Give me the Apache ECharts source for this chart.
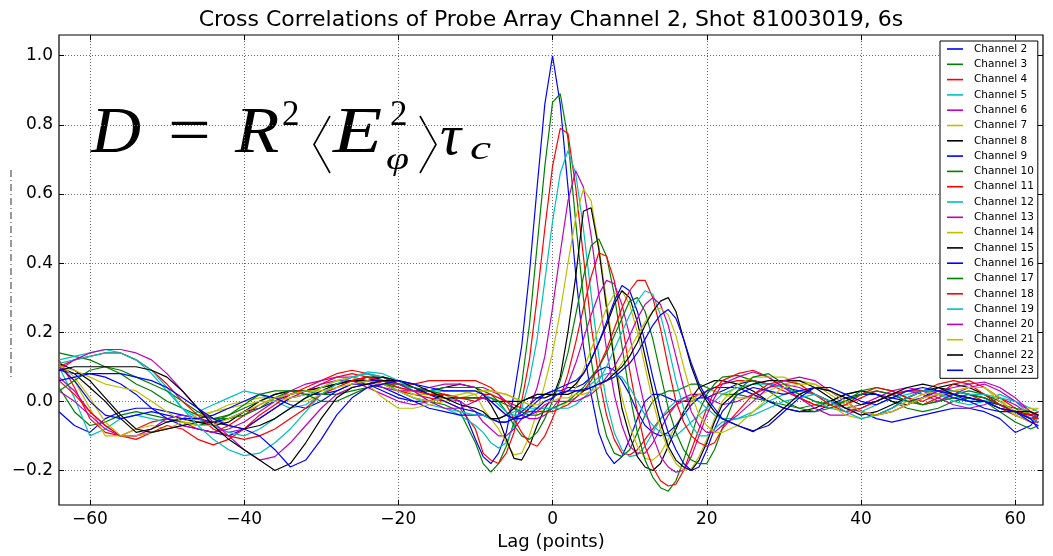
<!DOCTYPE html>
<html>
<head>
<meta charset="utf-8">
<script src="https://cdn.jsdelivr.net/npm/echarts@6/dist/echarts.min.js"></script>
<style>
html,body{margin:0;padding:0;background:#fff;}
#chart{width:1053px;height:556px;}
</style>
</head>
<body>
<div id="chart"></div>
<script>
// ---------------- data ----------------
const lags = [-64,-62,-60,-58,-56,-54,-52,-50,-48,-46,-44,-42,-40,-38,-36,-34,-32,-30,-28,-26,-24,-22,-20,-18,-16,-14,-12,-10,
  -9,-8,-7,-6,-5,-4,-3,-2,-1,0,1,2,3,4,5,6,7,8,9,10,11,12,13,14,15,16,17,18,19,20,21,22,
  24,26,28,30,32,34,36,38,40,42,44,46,48,50,52,54,56,58,60,62,63];

const ch2 = [-0.03,-0.07,-0.09,-0.05,-0.03,-0.02,-0.02,-0.03,-0.04,-0.05,-0.06,-0.05,-0.03,-0.02,0.00,0.02,0.03,0.04,0.05,0.06,0.05,0.03,0.01,0.00,0.00,0.02,0.00,-0.11,
  -0.16,-0.18,-0.15,-0.09,0.02,0.16,0.37,0.62,0.86,1.00,0.86,0.62,0.37,0.16,0.02,-0.09,-0.15,-0.18,-0.16,-0.11,-0.05,0.00,0.02,0.02,0.01,0.00,0.00,0.00,0.01,0.01,0.02,0.03,
  0.05,0.06,0.05,0.04,0.03,0.02,0.00,-0.02,-0.03,-0.05,-0.06,-0.05,-0.04,-0.03,-0.02,-0.02,-0.03,-0.05,-0.09,-0.07,-0.04];
const ch3 = [0.04,-0.03,-0.07,-0.06,-0.04,-0.03,-0.04,-0.05,-0.06,-0.07,-0.06,-0.04,-0.02,0.00,0.02,0.03,0.03,0.04,0.05,0.06,0.06,0.05,0.03,0.01,0.00,-0.01,-0.03,-0.12,
  -0.18,-0.205,-0.18,-0.13,-0.06,0.05,0.22,0.45,0.68,0.865,0.89,0.76,0.52,0.30,0.12,-0.01,-0.10,-0.15,-0.16,-0.14,-0.09,-0.04,0.00,0.02,0.03,0.03,0.04,0.05,0.05,0.04,0.03,0.02,
  0.02,0.01,0.00,-0.01,-0.02,-0.01,0.00,0.02,0.03,0.02,0.00,-0.02,-0.03,-0.02,0.00,0.01,0.00,-0.03,-0.06,-0.08,-0.07];
const ch4 = [0.12,0.04,-0.05,-0.09,-0.10,-0.08,-0.06,-0.05,-0.06,-0.08,-0.09,-0.07,-0.04,-0.01,0.01,0.02,0.03,0.05,0.07,0.08,0.07,0.05,0.03,0.02,0.01,0.00,-0.02,-0.08,
  -0.15,-0.17,-0.18,-0.15,-0.09,0.00,0.12,0.30,0.50,0.68,0.79,0.775,0.62,0.42,0.22,0.07,-0.04,-0.11,-0.15,-0.155,-0.14,-0.11,-0.08,-0.05,-0.03,-0.01,0.00,0.01,0.02,0.03,0.04,0.05,
  0.06,0.06,0.05,0.03,0.01,-0.01,-0.02,-0.01,0.01,0.03,0.02,0.00,-0.01,0.01,0.03,0.02,0.00,-0.02,-0.04,-0.06,-0.06];
const ch5 = [0.10,0.01,-0.10,-0.08,-0.05,-0.04,-0.05,-0.06,-0.05,-0.03,-0.01,0.01,0.03,0.02,0.00,-0.02,-0.01,0.02,0.05,0.07,0.08,0.06,0.03,0.01,-0.01,-0.02,-0.04,-0.07,
  -0.09,-0.12,-0.135,-0.12,-0.07,-0.02,0.06,0.18,0.35,0.52,0.66,0.725,0.66,0.50,0.31,0.13,0.00,-0.09,-0.14,-0.16,-0.155,-0.13,-0.09,-0.05,-0.02,0.00,0.01,0.01,0.00,-0.02,-0.04,-0.05,
  -0.05,-0.03,0.00,0.02,0.03,0.02,0.00,-0.02,-0.03,-0.01,0.01,0.02,0.03,0.02,0.00,-0.01,0.00,0.02,0.00,-0.04,-0.05];
const ch6 = [0.07,0.03,-0.03,-0.07,-0.10,-0.10,-0.08,-0.05,-0.04,-0.05,-0.07,-0.09,-0.08,-0.05,-0.02,0.01,0.03,0.05,0.06,0.06,0.04,0.02,0.00,-0.01,0.00,0.01,0.00,-0.03,
  -0.06,-0.08,-0.10,-0.10,-0.08,-0.05,-0.02,0.04,0.13,0.27,0.43,0.58,0.667,0.62,0.48,0.31,0.15,0.02,-0.07,-0.13,-0.15,-0.15,-0.12,-0.08,-0.04,-0.01,0.01,0.02,0.02,0.01,0.00,-0.01,
  0.00,0.02,0.04,0.05,0.04,0.02,0.00,-0.02,-0.01,0.01,0.03,0.04,0.03,0.01,-0.01,-0.02,-0.01,0.01,-0.01,-0.04,-0.05];
const ch7 = [0.11,0.06,-0.02,-0.10,-0.10,-0.08,-0.07,-0.08,-0.07,-0.05,-0.03,-0.01,0.00,0.01,0.01,0.00,0.00,0.02,0.04,0.06,0.07,0.06,0.04,0.02,0.02,0.03,0.03,0.02,
  -0.02,-0.05,-0.08,-0.12,-0.155,-0.15,-0.10,-0.03,0.05,0.14,0.26,0.40,0.53,0.615,0.58,0.45,0.29,0.13,0.01,-0.07,-0.13,-0.165,-0.17,-0.15,-0.11,-0.07,-0.03,0.00,0.02,0.03,0.03,0.02,
  0.01,0.01,0.03,0.05,0.06,0.05,0.02,-0.01,-0.03,-0.04,-0.03,-0.01,0.01,0.02,0.02,0.01,0.00,-0.01,-0.04,-0.06,-0.05];
const ch8 = [0.10,0.08,0.04,0.00,-0.05,-0.09,-0.08,-0.06,-0.05,-0.06,-0.07,-0.06,-0.03,0.00,0.02,0.03,0.03,0.04,0.05,0.06,0.07,0.07,0.05,0.03,0.03,0.04,0.05,0.04,
  0.02,-0.01,-0.05,-0.11,-0.165,-0.17,-0.13,-0.07,-0.02,0.01,0.07,0.20,0.36,0.55,0.56,0.44,0.27,0.12,-0.02,-0.10,-0.16,-0.19,-0.20,-0.18,-0.13,-0.08,-0.03,0.01,0.04,0.05,0.06,0.06,
  0.05,0.03,0.00,-0.02,-0.03,-0.02,0.00,0.02,0.03,0.02,0.00,-0.01,0.01,0.04,0.05,0.04,0.02,-0.01,-0.03,-0.05,-0.06];
const ch9 = [0.09,0.08,0.08,0.07,0.05,0.02,-0.02,-0.05,-0.07,-0.08,-0.09,-0.10,-0.08,-0.05,-0.02,0.01,0.02,0.02,0.03,0.05,0.05,0.04,0.02,0.00,-0.02,-0.03,-0.04,-0.04,
  -0.04,-0.05,-0.06,-0.06,-0.05,-0.03,-0.01,0.01,0.02,0.03,0.03,0.04,0.04,0.05,0.07,0.09,0.10,0.09,0.06,0.02,-0.03,-0.07,-0.09,-0.10,-0.09,-0.07,-0.04,-0.01,0.01,0.03,0.04,0.04,
  0.04,0.02,0.00,-0.02,-0.03,-0.03,-0.01,0.01,0.02,0.02,0.01,0.00,0.01,0.03,0.02,0.00,-0.02,-0.03,-0.03,-0.05,-0.06];
const ch10 = [0.14,0.13,0.12,0.10,0.08,0.05,0.03,0.00,-0.02,-0.04,-0.05,-0.05,-0.04,-0.02,0.01,0.03,0.03,0.02,0.02,0.03,0.04,0.05,0.04,0.03,0.03,0.04,0.04,0.04,
  0.03,0.02,0.00,-0.03,-0.07,-0.10,-0.11,-0.09,-0.05,0.00,0.06,0.14,0.25,0.36,0.45,0.47,0.42,0.31,0.16,0.02,-0.09,-0.17,-0.22,-0.25,-0.26,-0.23,-0.17,-0.10,-0.03,0.02,0.05,0.07,
  0.075,0.06,0.03,0.00,-0.02,-0.03,-0.02,0.00,0.03,0.04,0.03,0.01,-0.01,0.00,0.02,0.03,0.02,0.00,-0.03,-0.05,-0.04];
const ch11 = [0.06,0.02,-0.03,-0.07,-0.10,-0.11,-0.09,-0.07,-0.08,-0.11,-0.126,-0.11,-0.08,-0.04,-0.01,0.02,0.04,0.06,0.08,0.09,0.08,0.07,0.05,0.05,0.06,0.06,0.06,0.06,
  0.05,0.04,0.02,-0.01,-0.05,-0.09,-0.12,-0.13,-0.10,-0.05,0.01,0.08,0.17,0.27,0.36,0.43,0.42,0.35,0.23,0.09,-0.03,-0.13,-0.19,-0.23,-0.245,-0.24,-0.20,-0.14,-0.08,-0.02,0.03,0.06,
  0.08,0.09,0.07,0.04,0.01,-0.01,-0.02,-0.01,0.02,0.04,0.03,0.01,0.00,0.02,0.05,0.06,0.04,0.01,-0.02,-0.05,-0.05];
const ch12 = [0.12,0.13,0.14,0.15,0.14,0.12,0.08,0.03,-0.02,-0.05,-0.07,-0.09,-0.10,-0.08,-0.05,-0.02,0.01,0.04,0.06,0.07,0.08,0.07,0.06,0.04,0.03,0.03,0.03,0.03,
  0.02,0.01,-0.01,-0.03,-0.04,-0.04,-0.03,-0.02,-0.02,-0.02,-0.01,0.00,0.01,0.03,0.05,0.07,0.08,0.08,0.07,0.04,0.00,-0.04,-0.07,-0.09,-0.10,-0.10,-0.08,-0.06,-0.04,-0.02,0.00,0.02,
  0.04,0.05,0.05,0.04,0.02,0.00,-0.02,-0.03,-0.02,0.00,0.02,0.03,0.03,0.02,0.01,0.00,0.00,-0.01,-0.03,-0.05,-0.06];
const ch13 = [0.03,0.00,-0.04,-0.08,-0.10,-0.10,-0.09,-0.08,-0.07,-0.08,-0.09,-0.08,-0.06,-0.03,0.00,0.03,0.05,0.06,0.07,0.07,0.06,0.04,0.03,0.03,0.04,0.05,0.05,0.04,
  0.04,0.03,0.02,0.00,-0.02,-0.04,-0.05,-0.05,-0.04,-0.02,0.01,0.05,0.11,0.18,0.25,0.31,0.35,0.34,0.28,0.19,0.08,-0.02,-0.10,-0.16,-0.19,-0.205,-0.20,-0.16,-0.10,-0.04,0.01,0.05,
  0.07,0.085,0.07,0.04,0.01,-0.02,-0.04,-0.04,-0.02,0.00,0.02,0.03,0.02,0.00,0.02,0.04,0.05,0.03,0.00,-0.03,-0.04];
const ch14 = [0.11,0.07,0.01,-0.06,-0.10,-0.10,-0.09,-0.08,-0.06,-0.04,-0.03,-0.02,-0.01,0.00,0.00,0.01,0.02,0.04,0.06,0.07,0.05,0.01,-0.02,-0.02,-0.01,0.00,0.01,0.02,
  0.03,0.03,0.025,0.02,0.01,0.00,-0.01,-0.02,-0.03,-0.03,-0.02,0.00,0.04,0.09,0.15,0.21,0.27,0.31,0.32,0.28,0.20,0.10,0.00,-0.08,-0.14,-0.18,-0.20,-0.195,-0.16,-0.11,-0.05,0.00,
  0.05,0.07,0.07,0.07,0.05,0.02,-0.01,-0.04,-0.05,-0.04,-0.02,0.00,0.02,0.03,0.03,0.04,0.04,0.01,-0.04,-0.03,-0.02];
const ch15 = [0.11,0.09,0.06,0.01,-0.04,-0.08,-0.09,-0.08,-0.07,-0.06,-0.06,-0.07,-0.08,-0.07,-0.05,-0.02,0.01,0.03,0.05,0.06,0.06,0.07,0.06,0.04,0.02,0.01,0.01,0.01,
  0.01,0.00,0.00,0.00,0.00,0.00,0.01,0.01,0.01,0.02,0.02,0.03,0.05,0.08,0.12,0.17,0.22,0.28,0.32,0.30,0.23,0.13,0.03,-0.06,-0.13,-0.17,-0.19,-0.20,-0.17,-0.12,-0.06,-0.01,
  0.03,0.05,0.06,0.06,0.06,0.04,0.01,-0.02,-0.04,-0.03,-0.01,0.01,0.03,0.04,0.03,0.02,0.01,-0.01,-0.03,-0.04,-0.03];
const ch16 = [0.10,0.06,0.00,-0.04,-0.05,-0.04,-0.03,-0.04,-0.05,-0.05,-0.04,-0.02,0.00,0.02,0.01,-0.01,-0.02,0.00,0.03,0.05,0.06,0.06,0.05,0.04,0.02,0.00,-0.02,-0.03,
  -0.04,-0.05,-0.06,-0.06,-0.05,-0.04,-0.02,0.00,0.02,0.03,0.04,0.05,0.06,0.08,0.12,0.17,0.23,0.29,0.335,0.32,0.26,0.17,0.07,-0.02,-0.09,-0.14,-0.18,-0.20,-0.19,-0.14,-0.08,-0.03,
  0.02,0.04,0.03,0.02,0.03,0.04,0.03,0.00,-0.03,-0.04,-0.02,0.01,0.03,0.03,0.01,0.00,0.00,-0.01,-0.03,-0.06,-0.07];
const ch17 = [0.03,0.06,0.09,0.10,0.09,0.07,0.05,0.03,0.00,-0.03,-0.05,-0.04,-0.01,0.02,0.03,0.03,0.02,0.00,0.00,0.02,0.04,0.05,0.05,0.04,0.03,0.02,0.01,0.01,
  0.01,0.01,0.00,-0.01,-0.02,-0.03,-0.04,-0.04,-0.03,-0.02,-0.01,0.00,0.02,0.04,0.07,0.10,0.14,0.19,0.24,0.29,0.30,0.26,0.18,0.08,-0.02,-0.09,-0.14,-0.17,-0.18,-0.18,-0.14,-0.08,
  0.03,0.07,0.08,0.05,0.02,0.00,-0.01,0.00,0.02,0.03,0.02,0.00,-0.01,0.00,0.01,0.02,0.01,-0.01,-0.02,-0.03,-0.05];
const ch18 = [0.10,0.12,0.13,0.14,0.14,0.12,0.09,0.05,0.00,-0.04,-0.08,-0.10,-0.11,-0.10,-0.08,-0.05,-0.02,0.02,0.04,0.06,0.07,0.06,0.04,0.03,0.02,0.02,0.01,0.00,
  0.02,0.02,0.01,0.00,-0.01,-0.02,-0.03,-0.03,-0.03,-0.03,-0.02,-0.01,0.01,0.03,0.06,0.10,0.15,0.21,0.27,0.32,0.35,0.35,0.30,0.21,0.10,0.00,-0.06,-0.10,-0.12,-0.13,-0.12,-0.08,
  -0.03,0.02,0.05,0.06,0.05,0.02,-0.01,-0.03,-0.02,0.00,0.02,0.03,0.03,0.05,0.06,0.05,0.02,-0.01,-0.03,-0.04,-0.03];
const ch19 = [0.11,0.12,0.13,0.14,0.14,0.12,0.09,0.04,-0.02,-0.07,-0.11,-0.14,-0.157,-0.15,-0.12,-0.08,-0.03,0.02,0.05,0.07,0.085,0.08,0.06,0.03,0.00,-0.02,-0.03,-0.04,
  -0.04,-0.05,-0.05,-0.04,-0.03,-0.02,-0.02,-0.02,-0.02,-0.02,-0.02,-0.02,-0.01,0.01,0.03,0.06,0.10,0.15,0.20,0.25,0.29,0.32,0.31,0.25,0.16,0.06,-0.02,-0.07,-0.10,-0.10,-0.08,-0.06,
  -0.05,-0.04,-0.02,0.00,0.01,0.02,0.00,-0.03,-0.05,-0.04,-0.02,0.01,0.03,0.03,0.03,0.02,0.02,0.01,0.00,-0.02,-0.03];
const ch20 = [0.09,0.12,0.14,0.15,0.15,0.14,0.12,0.08,0.03,-0.02,-0.06,-0.10,-0.14,-0.17,-0.16,-0.12,-0.07,-0.02,0.02,0.04,0.05,0.06,0.05,0.03,0.00,-0.02,-0.02,0.00,
  0.01,0.00,-0.02,-0.04,-0.05,-0.05,-0.04,-0.03,-0.01,0.00,0.00,0.00,0.00,0.01,0.02,0.04,0.07,0.10,0.14,0.19,0.24,0.28,0.30,0.28,0.22,0.13,0.04,-0.03,-0.07,-0.09,-0.09,-0.07,
  -0.04,0.00,0.04,0.06,0.07,0.06,0.03,0.00,-0.03,-0.04,-0.03,-0.01,0.01,0.03,0.04,0.05,0.056,0.04,0.01,-0.03,-0.05];
const ch21 = [0.10,0.09,0.07,0.05,0.04,0.03,0.00,-0.03,-0.06,-0.07,-0.07,-0.05,-0.03,-0.01,0.01,0.02,0.03,0.03,0.04,0.05,0.06,0.05,0.03,0.01,0.00,0.01,0.02,0.03,
  0.03,0.03,0.025,0.02,0.01,0.00,-0.01,-0.01,0.00,0.00,0.01,0.01,0.02,0.02,0.03,0.04,0.06,0.08,0.11,0.15,0.19,0.23,0.26,0.27,0.25,0.19,0.10,0.02,-0.04,-0.07,-0.09,-0.09,
  -0.07,-0.03,0.01,0.04,0.05,0.05,0.03,0.00,-0.03,-0.04,-0.03,-0.01,0.01,0.02,0.03,0.04,0.04,0.00,-0.03,-0.02,-0.02];
const ch22 = [0.09,0.10,0.10,0.10,0.10,0.10,0.09,0.07,0.03,-0.02,-0.07,-0.11,-0.14,-0.17,-0.20,-0.18,-0.12,-0.05,0.01,0.04,0.05,0.06,0.06,0.05,0.03,0.01,-0.01,-0.02,
  -0.03,-0.05,-0.05,-0.04,-0.02,0.00,0.01,0.02,0.02,0.02,0.02,0.02,0.03,0.03,0.04,0.05,0.06,0.08,0.10,0.13,0.17,0.22,0.26,0.29,0.30,0.26,0.18,0.10,0.04,0.00,-0.03,-0.05,
  -0.07,-0.088,-0.06,-0.02,0.02,0.04,0.03,0.01,-0.01,0.00,0.02,0.04,0.05,0.04,0.02,0.01,0.00,-0.02,-0.03,-0.03,-0.04];
const ch23 = [0.06,0.07,0.08,0.08,0.08,0.07,0.06,0.04,0.01,-0.02,-0.05,-0.07,-0.08,-0.10,-0.14,-0.19,-0.17,-0.11,-0.04,0.01,0.04,0.05,0.06,0.05,0.04,0.03,0.03,0.03,
  0.02,0.00,-0.02,-0.04,-0.05,-0.05,-0.04,-0.02,0.00,0.01,0.025,0.03,0.03,0.035,0.04,0.05,0.06,0.07,0.09,0.11,0.14,0.18,0.22,0.25,0.266,0.24,0.18,0.11,0.05,0.01,-0.02,-0.05,
  -0.07,-0.085,-0.07,-0.03,0.01,0.04,0.04,0.02,0.00,-0.01,0.01,0.03,0.04,0.03,0.02,0.01,0.00,-0.02,-0.03,-0.05,-0.08];

const channelNames = ['Channel 2','Channel 3','Channel 4','Channel 5','Channel 6','Channel 7','Channel 8','Channel 9','Channel 10','Channel 11','Channel 12','Channel 13','Channel 14','Channel 15','Channel 16','Channel 17','Channel 18','Channel 19','Channel 20','Channel 21','Channel 22','Channel 23'];
const xTicks = [-60,-40,-20,0,20,40,60];
const yTicks = [-0.2,0.0,0.2,0.4,0.6,0.8,1.0];
const titleText = 'Cross Correlations of Probe Array Channel 2, Shot 81003019, 6s';
const xLabel = 'Lag (points)';

// ---------------- styling / layout ----------------
const channelValues = [ch2,ch3,ch4,ch5,ch6,ch7,ch8,ch9,ch10,ch11,ch12,ch13,ch14,ch15,ch16,ch17,ch18,ch19,ch20,ch21,ch22,ch23];
const colorCycle = ['#0000ff','#008000','#ff0000','#00bfbf','#bf00bf','#bfbf00','#000000'];
const X_MIN = -64, X_MAX = 63.6, Y_MIN = -0.3, Y_MAX = 1.06;
const FONT = 'DejaVu Sans';
const minus = s => s.replace('-', '\u2212');
const fmtY = v => { const m = yTicks.find(t => Math.abs(t - v) < 1e-6); return m === undefined ? '' : minus(m.toFixed(1)); };
const fmtX = v => { const m = xTicks.find(t => Math.abs(t - v) < 1e-6); return m === undefined ? '' : minus(String(m)); };

// tick marks (inward, on all four sides)
const tickSegs = [];
const dx = 0.65, dy = 0.015;
xTicks.forEach(t => {
  tickSegs.push([{coord:[t, Y_MIN]},{coord:[t, Y_MIN + dy]}]);
  tickSegs.push([{coord:[t, Y_MAX]},{coord:[t, Y_MAX - dy]}]);
});
yTicks.forEach(t => {
  tickSegs.push([{coord:[X_MIN, t]},{coord:[X_MIN + dx, t]}]);
  tickSegs.push([{coord:[X_MAX, t]},{coord:[X_MAX - dx, t]}]);
});

const series = channelValues.map((vals, i) => {
  const s = {
    type: 'line',
    name: channelNames[i],
    data: lags.map((x, j) => [x, vals[j]]),
    symbol: 'none',
    showSymbol: false,
    lineStyle: {width: 1.2, color: colorCycle[i % 7]},
    itemStyle: {color: colorCycle[i % 7]},
    emphasis: {disabled: true},
    animation: false
  };
  if (i === 0) {
    s.markLine = {
      silent: true, animation: false, symbol: ['none','none'],
      label: {show: false},
      lineStyle: {color: '#000', width: 1, type: 'solid'},
      emphasis: {disabled: true},
      data: tickSegs
    };
  }
  return s;
});

const serifText = (txt, x, y, size, italic, sx) => ({
  type: 'text', x: x, y: y, scaleX: sx || 1, silent: true,
  style: {text: txt, font: (italic ? 'italic ' : '') + size + 'px "Liberation Serif"', fill: '#000', textAlign: 'left', textVerticalAlign: 'middle'}
});

const gridColor = '#6f6f6f';
const option = {
  animation: false,
  backgroundColor: '#ffffff',
  grid: {left: 59, right: 10, top: 35, bottom: 39, show: true, borderColor: '#000', borderWidth: 1.2, backgroundColor: 'transparent'},
  xAxis: {
    type: 'value', min: X_MIN, max: X_MAX, interval: 4,
    axisLine: {show: false, onZero: false},
    axisTick: {show: false},
    axisLabel: {formatter: fmtX, color: '#000', fontFamily: FONT, fontSize: 17, margin: 6, showMinLabel: true, showMaxLabel: true},
    splitLine: {show: true, lineStyle: {color: ['transparent', gridColor, 'transparent', 'transparent', 'transparent'], type: [1, 2], width: 1}},
    name: xLabel, nameLocation: 'middle', nameGap: 28,
    nameTextStyle: {color: '#000', fontFamily: FONT, fontSize: 18}
  },
  yAxis: {
    type: 'value', min: Y_MIN, max: Y_MAX, interval: 0.1,
    axisLine: {show: false, onZero: false},
    axisTick: {show: false},
    axisLabel: {formatter: fmtY, color: '#000', fontFamily: FONT, fontSize: 17, margin: 6},
    splitLine: {show: true, lineStyle: {color: ['transparent', gridColor], type: [1, 2], width: 1}}
  },
  legend: {
    data: channelNames,
    orient: 'vertical', left: 940, top: 41,
    padding: [1.5, 4, 1.5, 7],
    icon: 'rect',
    itemGap: 2.3, itemWidth: 16, itemHeight: 1.6,
    backgroundColor: '#fff', borderColor: '#000', borderWidth: 1, borderRadius: 0,
    selectedMode: false,
    textStyle: {fontFamily: FONT, fontSize: 10.5, color: '#000', lineHeight: 13, padding: [0, 0, 0, 6]}
  },
  graphic: [
    {type: 'text', x: 551, y: 20, silent: true, style: {text: titleText, font: '22px "DejaVu Sans"', fill: '#000', textAlign: 'center', textVerticalAlign: 'middle'}},
    // formula  D = R^2 <E^2_phi> tau_c
    serifText('D', 91, 134.7, 66, true, 1.05),
    serifText('=', 168, 134.7, 66, false, 1.15),
    serifText('R', 235, 134.7, 66, true, 1.1),
    serifText('2', 282, 116, 35, false, 1),
    {type: 'polyline', silent: true, shape: {points: [[330,116],[314,144.5],[330,173]]}, style: {stroke: '#000', lineWidth: 1.6, fill: null}},
    serifText('E', 333, 134.7, 66, true, 1.22),
    serifText('2', 390, 116, 35, false, 1),
    serifText('φ', 386, 161, 32, true, 1.3),
    {type: 'polyline', silent: true, shape: {points: [[420,116],[436,144.5],[420,173]]}, style: {stroke: '#000', lineWidth: 1.6, fill: null}},
    serifText('τ', 440, 138.8, 56, true, 1.05),
    serifText('c', 470, 150.5, 34, true, 1.4),
    // remnant of the y-axis label (drawn as a thin dash-dot stroke)
    {type: 'line', silent: true, shape: {x1: 11, y1: 170, x2: 11, y2: 378}, style: {stroke: '#333', lineWidth: 1, lineDash: [7, 3, 1, 3]}}
  ],
  series: series
};

const chart = echarts.init(document.getElementById('chart'), null, {renderer: 'canvas'});
chart.setOption(option);
</script>
</body>
</html>
